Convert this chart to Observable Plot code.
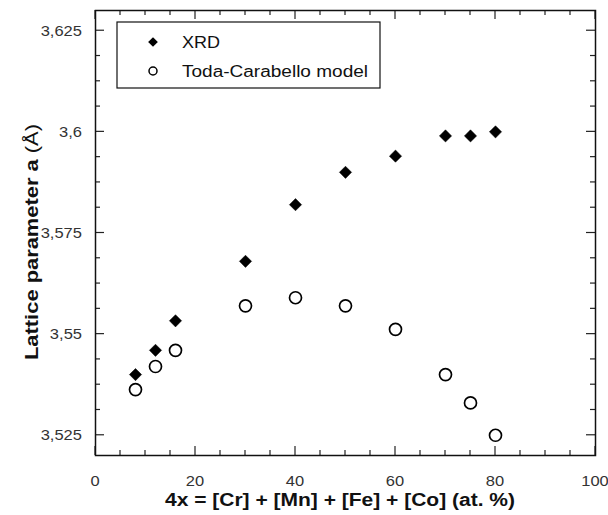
<!DOCTYPE html>
<html>
<head>
<meta charset="utf-8">
<script src="https://cdn.jsdelivr.net/npm/d3@7"></script>
<script src="https://cdn.jsdelivr.net/npm/@observablehq/plot@0.6"></script>
<style>
  html, body { margin: 0; padding: 0; background: #fff; }
  #chart { width: 608px; height: 515px; }
</style>
</head>
<body>
<div id="chart"></div>
<script>
// Data
const composition = [8, 12, 16, 30, 40, 50, 60, 70, 75, 80];
const xrd = [3.540, 3.546, 3.5533, 3.568, 3.582, 3.590, 3.594, 3.599, 3.599, 3.600];
const todaCarabello = [3.5363, 3.542, 3.546, 3.557, 3.559, 3.557, 3.5512, 3.540, 3.533, 3.525];
const seriesNames = ["XRD", "Toda-Carabello model"];

const xMajor = [0, 20, 40, 60, 80, 100];
const xMajorLabels = ["0", "20", "40", "60", "80", "100"];
const xMinor = d3.range(0, 100.001, 5).filter(v => v % 20 !== 0);
const yMajor = [3.525, 3.55, 3.575, 3.6, 3.625];
const yMajorLabels = ["3,525", "3,55", "3,575", "3,6", "3,625"];
const yMinor = d3.range(0, 17).map(i => 3.525 + i * 0.00625).filter((v, i) => i % 4 !== 0);

const xrdRows = composition.map((c, i) => ({x: c, y: xrd[i]}));
const tcRows = composition.map((c, i) => ({x: c, y: todaCarabello[i]}));

const FONT = "Liberation Sans, Arial, sans-serif";

(function draw() {
const chart = Plot.plot({
  width: 608,
  height: 515,
  marginLeft: 95,
  marginRight: 13,
  marginTop: 10,
  marginBottom: 60,
  style: {fontFamily: FONT, background: "white"},
  x: {domain: [0, 100], axis: null},
  y: {domain: [3.52, 3.63], axis: null},
  marks: [
    Plot.frame({stroke: "#111", strokeWidth: 1.5}),
    Plot.dot(xrdRows, {x: "x", y: "y", symbol: "diamond2", r: 5.5, fill: "black", stroke: "black", strokeWidth: 0.5}),
    Plot.dot(tcRows, {x: "x", y: "y", symbol: "circle", r: 6, fill: "white", stroke: "black", strokeWidth: 1.7})
  ]
});

document.getElementById("chart").appendChild(chart);

const sx = chart.scale("x"), sy = chart.scale("y");
const X = v => sx.apply(v), Y = v => sy.apply(v);
const pLeft = X(0), pRight = X(100), pTop = Y(3.63), pBottom = Y(3.52);
const svg = d3.select(chart);

// inward ticks
const tg = svg.insert("g", ":first-child").attr("stroke", "#222").attr("stroke-width", 1.2);
const addX = (vals, len) => vals.forEach(v => {
  tg.append("line").attr("x1", X(v)).attr("x2", X(v)).attr("y1", pBottom).attr("y2", pBottom - len);
  tg.append("line").attr("x1", X(v)).attr("x2", X(v)).attr("y1", pTop).attr("y2", pTop + len);
});
const addY = (vals, len) => vals.forEach(v => {
  tg.append("line").attr("y1", Y(v)).attr("y2", Y(v)).attr("x1", pLeft).attr("x2", pLeft + len);
  tg.append("line").attr("y1", Y(v)).attr("y2", Y(v)).attr("x1", pRight).attr("x2", pRight - len);
});
addX(xMajor, 9); addX(xMinor, 5); addY(yMajor, 9); addY(yMinor, 5);

const stretch = (sel, f) => sel.each(function() {
  const w = this.getComputedTextLength();
  this.setAttribute("textLength", w * f);
  this.setAttribute("lengthAdjust", "spacingAndGlyphs");
});

// tick labels
const lg0 = svg.append("g").attr("font-family", FONT).attr("font-size", 15).attr("fill", "#333");
xMajor.forEach((v, i) => {
  lg0.append("text").attr("x", X(v)).attr("y", 486).attr("text-anchor", "middle").text(xMajorLabels[i]);
});
yMajor.forEach((v, i) => {
  lg0.append("text").attr("x", 82).attr("y", Y(v) + 5.5).attr("text-anchor", "end").text(yMajorLabels[i]);
});
stretch(lg0.selectAll("text"), 1.1);

// Axis titles
svg.append("text")
  .attr("x", 340).attr("y", 506)
  .attr("text-anchor", "middle").attr("font-family", FONT)
  .attr("font-size", 17.5).attr("font-weight", "bold").attr("fill", "#111")
  .attr("textLength", 350).attr("lengthAdjust", "spacingAndGlyphs")
  .text("4x = [Cr] + [Mn] + [Fe] + [Co] (at. %)");
const yt = svg.append("text")
  .attr("transform", "translate(38,242) rotate(-90)")
  .attr("text-anchor", "middle").attr("font-family", FONT)
  .attr("font-size", 19).attr("font-weight", "bold").attr("fill", "#111")
  .attr("textLength", 236).attr("lengthAdjust", "spacingAndGlyphs");
yt.append("tspan").text("Lattice parameter a ");
yt.append("tspan").attr("font-weight", "normal").text("(Å)");

// Legend
const lg = svg.append("g").attr("font-family", FONT);
lg.append("rect").attr("x", 117).attr("y", 22).attr("width", 263).attr("height", 66)
  .attr("fill", "white").attr("stroke", "#111").attr("stroke-width", 1.2);
lg.append("path").attr("d", d3.symbol(d3.symbolDiamond2, 60)()).attr("transform", "translate(153,42)").attr("fill", "black");
lg.append("circle").attr("cx", 153).attr("cy", 71).attr("r", 4).attr("fill", "white").attr("stroke", "black").attr("stroke-width", 1.5);
lg.append("text").attr("x", 182).attr("y", 48).attr("text-anchor", "start").attr("font-size", 16).attr("fill", "#111")
  .attr("textLength", 38).attr("lengthAdjust", "spacingAndGlyphs").text(seriesNames[0]);
lg.append("text").attr("x", 182).attr("y", 77).attr("text-anchor", "start").attr("font-size", 16).attr("fill", "#111")
  .attr("textLength", 186).attr("lengthAdjust", "spacingAndGlyphs").text(seriesNames[1]);
})();
</script>
</body>
</html>
